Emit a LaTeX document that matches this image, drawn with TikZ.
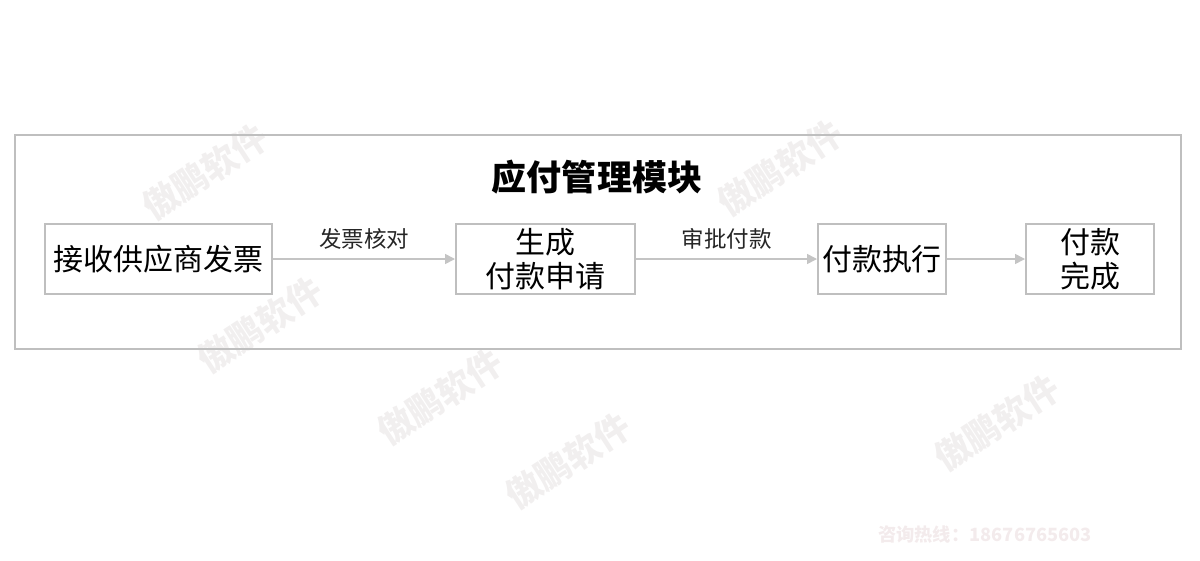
\documentclass[tikz,border=0pt]{standalone}
\usepackage{fontspec}
\setmainfont{Noto Sans CJK SC}
\newfontfamily\cjk{Noto Sans CJK SC}
\usetikzlibrary{arrows.meta}
\definecolor{boxgray}{HTML}{BFBFBF}
\definecolor{arrgray}{HTML}{C4C4C4}
\definecolor{wmgray}{HTML}{F1EFEF}
\definecolor{phgray}{HTML}{F3EBEC}
\begin{document}
\begin{tikzpicture}[x=0.025cm,y=-0.025cm,
  stepbox/.style={draw=boxgray,line width=1.4pt,minimum height=70*0.025cm,inner sep=0pt,align=center,
    font=\cjk\fontsize{21.3pt}{24.2pt}\selectfont,text=black},
  flow/.style={draw=arrgray,line width=1.1pt,-{Triangle[length=7pt,width=7pt]}},
  elabel/.style={font=\cjk\fontsize{16pt}{18pt}\selectfont,text=black!85},
  wm/.style={font=\cjk\bfseries\fontsize{25pt}{26pt}\selectfont,text=wmgray,rotate=33,inner sep=0pt}]
\useasboundingbox (0,0) rectangle (1200,560);
% watermarks
\node[wm] (w1) at (205,172) {傲鹏软件};
\node[wm] (w2) at (260,325) {傲鹏软件};
\node[wm] (w3) at (440,397) {傲鹏软件};
\node[wm] (w4) at (568,461) {傲鹏软件};
\node[wm] (w5) at (780,168) {傲鹏软件};
\node[wm] (w6) at (997,423) {傲鹏软件};
\node[font=\cjk\bfseries\fontsize{13pt}{14pt}\selectfont,text=phgray] (ph) at (985,534) {咨询热线：18676765603};
% frame
\node[draw=boxgray,line width=1.4pt,minimum width=1166*0.025cm,minimum height=214*0.025cm,inner sep=0pt] (frame) at (598,242) {};
\node[font=\cjk\bfseries\fontsize{24.9pt}{28pt}\selectfont,text=black] (title) at (597,177) {应付管理模块};
% boxes
\node[stepbox,minimum width=227*0.025cm] (b1) at (158.5,259) {接收供应商发票};
\node[stepbox,minimum width=179*0.025cm] (b2) at (545.5,259) {生成\\付款申请};
\node[stepbox,minimum width=128*0.025cm] (b3) at (882,259) {付款执行};
\node[stepbox,minimum width=128*0.025cm] (b4) at (1090,259) {付款\\完成};
% arrows
\draw[flow] (b1) -- node[elabel,above=3pt] (l1) {发票核对} (b2);
\draw[flow] (b2) -- node[elabel,above=3pt] (l2) {审批付款} (b3);
\draw[flow] (b3) -- (b4);
\end{tikzpicture}
\end{document}
